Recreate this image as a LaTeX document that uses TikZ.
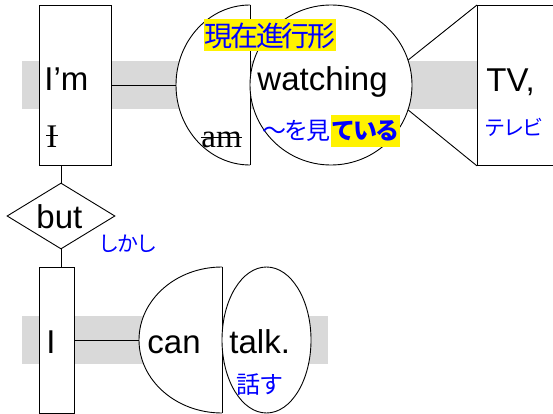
\documentclass[tikz,border=0pt]{standalone}
\usepackage{fontspec}
\newfontfamily\arialfont{Liberation Sans}
\newfontfamily\seriffont{Liberation Serif}
\newfontfamily\jpfont{Noto Sans CJK JP}[LetterSpace=-8]
\usetikzlibrary{shapes.geometric, positioning}

\begin{document}
\begin{tikzpicture}[x=1pt, y=-1pt, line width=0.9pt,
  wordbox/.style={draw, fill=white, inner sep=0},
  word/.style={font=\arialfont\fontsize{33}{40}\selectfont, inner sep=0, anchor=base west},
  struck/.style={font=\seriffont\fontsize{33}{40}\selectfont, inner sep=0, anchor=base west},
  gloss/.style={font=\jpfont\fontsize{#1}{#1}\selectfont, text=blue, inner sep=0},
  gloss/.default=24,
  band/.style={fill=black!15, draw=none},
]
  \useasboundingbox (0,0) rectangle (553,414);
  \clip (0,0) rectangle (553,414);

  % Bands
  \fill[band] (22,61) rectangle (477,109);
  \fill[band] (22,316) rectangle (328,364);

  % First clause
  \node[wordbox, minimum width=72, minimum height=160] (im) at (75,85) {};
  \begin{scope}
    \clip (170,0) rectangle (250,170);
    \node[ellipse, wordbox, minimum width=148, minimum height=160] (am) at (250,85) {};
  \end{scope}
  \draw (am.north) -- (am.south);
  \node[ellipse, wordbox, minimum width=162, minimum height=160] (watch) at (331,85) {};
  \node[wordbox, minimum width=100, minimum height=160, anchor=north west] (tv) at (477,5) {};

  \draw (im.east) -- (am.west);
  \draw (watch.18) -- (tv.north west);
  \draw (watch.-18) -- (tv.south west);

  \node[word] (imw) at (44,91) {I’m};
  \node[struck] (iw) at (46,148) {I};
  \draw ([yshift=13pt]iw.base west) -- ([yshift=13pt]iw.base east);
  \node[struck] (amw) at (201,148) {am};
  \draw ([yshift=11pt]amw.base west) -- ([yshift=11pt]amw.base east);
  \node[word] (watchw) at (257,91) {watching};
  \node[word] (tvw) at (486,92) {TV,};

  % Glosses
  \node[gloss=28, fill=yellow, minimum width=130, minimum height=32] (prog) at (270,35.5) {現在進行形};
  \node[gloss, minimum height=32, anchor=east] (seeA) at (331,131) {～を見};
  \node[gloss, fill=yellow, minimum width=66, minimum height=32, right=0pt of seeA] (seeB) {\bfseries ている};
  \node[gloss=21] (tvg) at (514,127) {テレビ};

  % Second clause
  \node[diamond, wordbox, minimum width=108, minimum height=66] (butd) at (61,216) {};
  \node[word] (butw) at (36,228) {but};
  \node[gloss=21] (butg) at (128,244) {しかし};
  \draw (im.south -| butd.north) -- (butd.north);

  \node[wordbox, minimum width=35, minimum height=146] (ibox) at (56.5,340) {};
  \draw (butd.south) -- (butd.south |- ibox.north);
  \begin{scope}
    \clip (130,260) rectangle (222,420);
    \node[ellipse, wordbox, minimum width=166, minimum height=146] (can) at (222,340) {};
  \end{scope}
  \draw (can.north) -- (can.south);
  \node[ellipse, wordbox, minimum width=89, minimum height=146] (talk) at (266.5,340) {};
  \draw (ibox.east) -- (can.west);

  \node[word] (iw2) at (46,353) {I};
  \node[word] (canw) at (147,353) {can};
  \node[word] (talkw) at (229,353) {talk.};
  \node[gloss] (talkg) at (260,385) {話す};
\end{tikzpicture}
\end{document}
